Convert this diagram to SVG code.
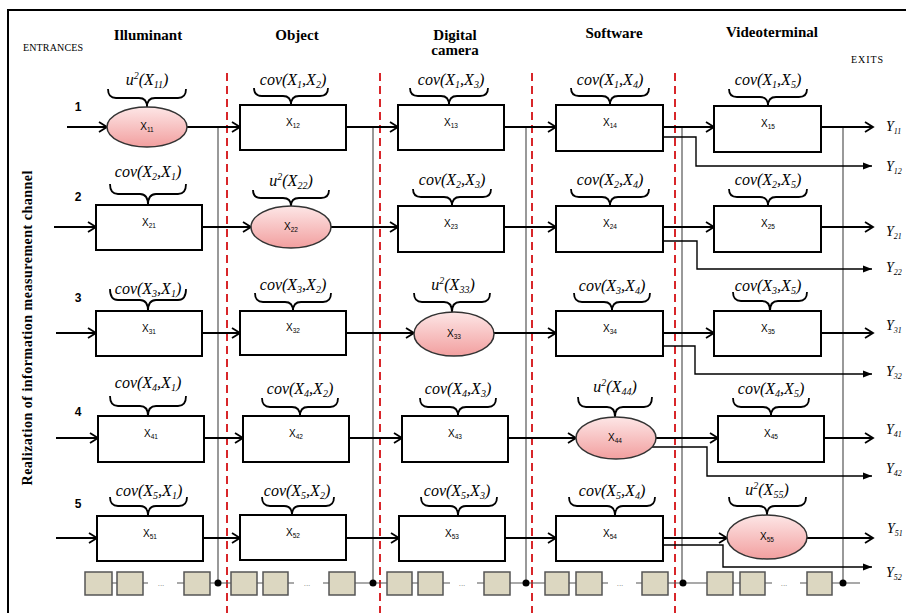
<svg xmlns="http://www.w3.org/2000/svg" width="906" height="613" viewBox="0 0 906 613">
<defs>
<linearGradient id="pink" x1="0" y1="0" x2="0" y2="1">
<stop offset="0" stop-color="#fde6e6"/>
<stop offset="1" stop-color="#f29f9f"/>
</linearGradient>
<marker id="ah" markerUnits="userSpaceOnUse" markerWidth="12" markerHeight="12" refX="10" refY="6" orient="auto">
<path d="M2,1 L10,6 L2,11" fill="none" stroke="#000" stroke-width="1.8"/>
</marker>
<marker id="sh" markerUnits="userSpaceOnUse" markerWidth="10" markerHeight="10" refX="9" refY="5" orient="auto">
<path d="M0,1.5 L9,5 L0,8.5 Z" fill="#000"/>
</marker>
</defs>
<style>
.frame{stroke:#000;stroke-width:2;fill:none}
.hd{font-family:"Liberation Serif",serif;font-weight:bold;font-size:15px;text-anchor:middle;fill:#000}
.sm{font-family:"Liberation Serif",serif;font-size:10px;fill:#000}
.rn{font-family:"Liberation Sans",sans-serif;font-weight:bold;font-size:12px;text-anchor:middle}
.red{stroke:#d8262a;stroke-width:2;stroke-dasharray:8 5;fill:none}
.gl{stroke:#555;stroke-width:1.2;fill:none}
.box{fill:#fff;stroke:#000;stroke-width:2}
.ell{fill:url(#pink);stroke:#333;stroke-width:1.5}
.brace{fill:none;stroke:#000;stroke-width:1.8}
.m{font-family:"Liberation Serif",serif;font-style:italic;font-size:16px;text-anchor:middle}
.m .sb{font-size:10px}
.n{font-family:"Liberation Sans",sans-serif;font-size:10px;text-anchor:middle}
.n .sb{font-size:6.5px}
.ar{stroke:#000;stroke-width:1.8;fill:none;marker-end:url(#ah)}
.br{stroke:#000;stroke-width:1.4;fill:none;marker-end:url(#sh)}
.y{font-family:"Liberation Serif",serif;font-style:italic;font-size:14px}
.y .sb{font-size:8px}
.cell{fill:#dcd7c1;stroke:#555;stroke-width:1.5}
.dots{font-family:"Liberation Sans",sans-serif;font-size:8px;fill:#777;text-anchor:middle}
</style>

<!-- frame and titles -->
<path class="frame" d="M906,10 L8,10 L8,613"/>
<text class="hd" x="148" y="40">Illuminant</text>
<text class="hd" x="297" y="40">Object</text>
<text class="hd" x="455" y="40">Digital</text>
<text class="hd" x="455" y="55">camera</text>
<text class="hd" x="614" y="38">Software</text>
<text class="hd" x="772" y="37">Videoterminal</text>
<text class="sm" x="23" y="51" textLength="60">ENTRANCES</text>
<text class="sm" x="851" y="63" textLength="32">EXITS</text>
<text transform="translate(32,328) rotate(-90)" font-family="Liberation Serif, serif" font-weight="bold" font-size="14" text-anchor="middle" textLength="315" lengthAdjust="spacing">Realization of information measurement channel</text>
<text class="rn" x="78" y="111">1</text>
<text class="rn" x="78" y="201">2</text>
<text class="rn" x="78" y="302">3</text>
<text class="rn" x="78" y="416">4</text>
<text class="rn" x="78" y="508">5</text>

<!-- stage separators -->
<g id="separators">
<line class="red" x1="227" y1="73" x2="227" y2="613"/>
<line class="red" x1="380" y1="73" x2="380" y2="613"/>
<line class="red" x1="532" y1="73" x2="532" y2="613"/>
<line class="red" x1="675" y1="73" x2="675" y2="613"/>
</g>

<!-- bus -->
<g id="bus">
<line class="gl" x1="218" y1="127" x2="218" y2="583"/>
<line class="gl" x1="373" y1="127" x2="373" y2="583"/>
<line class="gl" x1="526" y1="127" x2="526" y2="583"/>
<line class="gl" x1="682" y1="127" x2="682" y2="583"/>
<line class="gl" x1="843" y1="127" x2="843" y2="583"/>
<path class="gl" d="M112,583H117 M143,583H148 M177,583H184 M210,583H231 M257,583H263 M288,583H294 M323,583H329 M355,583H387 M412,583H418 M443,583H450 M477,583H484 M510,583H545 M569,583H576 M602,583H608 M636,583H642 M668,583H707 M733,583H740 M765,583H772 M800,583H807 M832,583H860"/>
<rect class="cell" x="85" y="572" width="27" height="23"/>
<rect class="cell" x="117" y="572" width="26" height="23"/>
<rect class="cell" x="184" y="572" width="26" height="23"/>
<rect class="cell" x="231" y="572" width="26" height="23"/>
<rect class="cell" x="263" y="572" width="25" height="23"/>
<rect class="cell" x="329" y="572" width="26" height="23"/>
<rect class="cell" x="387" y="572" width="25" height="23"/>
<rect class="cell" x="418" y="572" width="25" height="23"/>
<rect class="cell" x="484" y="572" width="26" height="23"/>
<rect class="cell" x="545" y="572" width="24" height="23"/>
<rect class="cell" x="576" y="572" width="26" height="23"/>
<rect class="cell" x="642" y="572" width="26" height="23"/>
<rect class="cell" x="707" y="572" width="26" height="23"/>
<rect class="cell" x="740" y="572" width="25" height="23"/>
<rect class="cell" x="807" y="572" width="25" height="23"/>
<text class="dots" x="161" y="586">...</text>
<text class="dots" x="307" y="586">...</text>
<text class="dots" x="462" y="586">...</text>
<text class="dots" x="620" y="586">...</text>
<text class="dots" x="784" y="586">...</text>
<circle cx="218" cy="583" r="3.5"/>
<circle cx="373" cy="583" r="3.5"/>
<circle cx="526" cy="583" r="3.5"/>
<circle cx="683" cy="583" r="3.5"/>
<circle cx="843" cy="583" r="3.5"/>
</g>

<!-- connectors -->
<g id="connectors">
<line class="ar" x1="67" y1="127" x2="107" y2="127"/>
<line class="ar" x1="54" y1="227" x2="96" y2="227"/>
<line class="ar" x1="56" y1="333" x2="96" y2="333"/>
<line class="ar" x1="56" y1="438" x2="98" y2="438"/>
<line class="ar" x1="56" y1="538" x2="97" y2="538"/>

<line class="ar" x1="187" y1="127" x2="240" y2="127"/>
<line class="ar" x1="346" y1="127" x2="398" y2="127"/>
<line class="ar" x1="504" y1="127" x2="556" y2="127"/>
<line class="ar" x1="663" y1="127" x2="714" y2="127"/>
<line class="ar" x1="821" y1="127" x2="873" y2="127"/>

<line class="ar" x1="202" y1="227" x2="251" y2="227"/>
<line class="ar" x1="331" y1="227" x2="398" y2="227"/>
<line class="ar" x1="504" y1="227" x2="556" y2="227"/>
<line class="ar" x1="663" y1="227" x2="714" y2="227"/>
<line class="ar" x1="821" y1="227" x2="873" y2="227"/>

<line class="ar" x1="202" y1="333" x2="240" y2="333"/>
<line class="ar" x1="346" y1="333" x2="414" y2="333"/>
<line class="ar" x1="494" y1="333" x2="556" y2="333"/>
<line class="ar" x1="663" y1="333" x2="714" y2="333"/>
<line class="ar" x1="821" y1="333" x2="873" y2="333"/>

<line class="ar" x1="204" y1="438" x2="243" y2="438"/>
<line class="ar" x1="349" y1="438" x2="402" y2="438"/>
<line class="ar" x1="508" y1="438" x2="576" y2="438"/>
<line class="ar" x1="656" y1="438" x2="718" y2="438"/>
<line class="ar" x1="824" y1="438" x2="873" y2="438"/>

<line class="ar" x1="203" y1="538" x2="240" y2="538"/>
<line class="ar" x1="346" y1="538" x2="399" y2="538"/>
<line class="ar" x1="505" y1="538" x2="556" y2="538"/>
<line class="ar" x1="663" y1="538" x2="727" y2="538"/>
<line class="ar" x1="807" y1="538" x2="873" y2="538"/>

<polyline class="br" points="663,137 696,137 696,166 872,166"/>
<polyline class="br" points="663,241 697,241 697,269 872,269"/>
<polyline class="br" points="663,346 695,346 695,374 872,374"/>
<polyline class="br" points="652,447 707,447 707,476 872,476"/>
<polyline class="br" points="663,545 723,545 723,567 872,567"/>
</g>

<!-- outputs -->
<g id="exits">
<text class="y" x="886" y="131">Y<tspan class="sb" dy="3">11</tspan></text>
<text class="y" x="886" y="171">Y<tspan class="sb" dy="3">12</tspan></text>
<text class="y" x="886" y="236">Y<tspan class="sb" dy="3">21</tspan></text>
<text class="y" x="886" y="272">Y<tspan class="sb" dy="3">22</tspan></text>
<text class="y" x="886" y="330">Y<tspan class="sb" dy="3">31</tspan></text>
<text class="y" x="886" y="376">Y<tspan class="sb" dy="3">32</tspan></text>
<text class="y" x="886" y="434">Y<tspan class="sb" dy="3">41</tspan></text>
<text class="y" x="886" y="473">Y<tspan class="sb" dy="3">42</tspan></text>
<text class="y" x="887" y="533">Y<tspan class="sb" dy="3">51</tspan></text>
<text class="y" x="886" y="577">Y<tspan class="sb" dy="3">52</tspan></text>
</g>

<!-- row 1 -->
<g id="X11">
<path class="brace" d="M108,89 Q108,98 116,98 L139,98 Q147,98 147,107 Q147,98 155,98 L178,98 Q186,98 186,89"/>
<text class="m" x="147" y="85">u<tspan class="sb" dy="-6">2</tspan><tspan dy="6">(X</tspan><tspan class="sb" dy="3">11</tspan><tspan dy="-3">)</tspan></text>
<ellipse class="ell" cx="147" cy="127" rx="40" ry="20"/>
<text class="n" x="147" y="130">X<tspan class="sb" dy="2">11</tspan></text>
</g>
<g id="X12">
<rect class="box" x="240" y="105" width="106" height="45"/>
<path class="brace" d="M254,88 Q254,96 262,96 L283,96 Q291,96 291,105 Q291,96 299,96 L320,96 Q328,96 328,88"/>
<text class="m" x="293" y="85">cov(X<tspan class="sb" dy="3">1</tspan><tspan dy="-3">,X</tspan><tspan class="sb" dy="3">2</tspan><tspan dy="-3">)</tspan></text>
<text class="n" x="293" y="126">X<tspan class="sb" dy="2">12</tspan></text>
</g>
<g id="X13">
<rect class="box" x="398" y="105" width="106" height="45"/>
<path class="brace" d="M410,88 Q410,96 418,96 L441,96 Q449,96 449,105 Q449,96 457,96 L480,96 Q488,96 488,88"/>
<text class="m" x="451" y="85">cov(X<tspan class="sb" dy="3">1</tspan><tspan dy="-3">,X</tspan><tspan class="sb" dy="3">3</tspan><tspan dy="-3">)</tspan></text>
<text class="n" x="451" y="126">X<tspan class="sb" dy="2">13</tspan></text>
</g>
<g id="X14">
<rect class="box" x="556" y="105" width="107" height="46"/>
<path class="brace" d="M571,88 Q571,96 579,96 L602,96 Q610,96 610,105 Q610,96 618,96 L641,96 Q649,96 649,88"/>
<text class="m" x="610" y="85">cov(X<tspan class="sb" dy="3">1</tspan><tspan dy="-3">,X</tspan><tspan class="sb" dy="3">4</tspan><tspan dy="-3">)</tspan></text>
<text class="n" x="610" y="126">X<tspan class="sb" dy="2">14</tspan></text>
</g>
<g id="X15">
<rect class="box" x="714" y="106" width="107" height="46"/>
<path class="brace" d="M729,89 Q729,97 737,97 L760,97 Q768,97 768,106 Q768,97 776,97 L799,97 Q807,97 807,89"/>
<text class="m" x="768" y="85">cov(X<tspan class="sb" dy="3">1</tspan><tspan dy="-3">,X</tspan><tspan class="sb" dy="3">5</tspan><tspan dy="-3">)</tspan></text>
<text class="n" x="768" y="127">X<tspan class="sb" dy="2">15</tspan></text>
</g>

<!-- row 2 -->
<g id="X21">
<rect class="box" x="96" y="205" width="106" height="45"/>
<path class="brace" d="M110,184 Q110,194 118,194 L140,194 Q148,194 148,205 Q148,194 156,194 L178,194 Q186,194 186,184"/>
<text class="m" x="148" y="177">cov(X<tspan class="sb" dy="3">2</tspan><tspan dy="-3">,X</tspan><tspan class="sb" dy="3">1</tspan><tspan dy="-3">)</tspan></text>
<text class="n" x="149" y="226">X<tspan class="sb" dy="2">21</tspan></text>
</g>
<g id="X22">
<path class="brace" d="M253,190 Q253,198 261,198 L283,198 Q291,198 291,206 Q291,198 299,198 L321,198 Q329,198 329,190"/>
<text class="m" x="291" y="186">u<tspan class="sb" dy="-6">2</tspan><tspan dy="6">(X</tspan><tspan class="sb" dy="3">22</tspan><tspan dy="-3">)</tspan></text>
<ellipse class="ell" cx="291" cy="227" rx="40" ry="21"/>
<text class="n" x="291" y="230">X<tspan class="sb" dy="2">22</tspan></text>
</g>
<g id="X23">
<rect class="box" x="398" y="206" width="106" height="46"/>
<path class="brace" d="M413,189 Q413,197 421,197 L444,197 Q452,197 452,206 Q452,197 460,197 L483,197 Q491,197 491,189"/>
<text class="m" x="452" y="185">cov(X<tspan class="sb" dy="3">2</tspan><tspan dy="-3">,X</tspan><tspan class="sb" dy="3">3</tspan><tspan dy="-3">)</tspan></text>
<text class="n" x="451" y="227">X<tspan class="sb" dy="2">23</tspan></text>
</g>
<g id="X24">
<rect class="box" x="556" y="206" width="107" height="46"/>
<path class="brace" d="M571,189 Q571,197 579,197 L602,197 Q610,197 610,206 Q610,197 618,197 L641,197 Q649,197 649,189"/>
<text class="m" x="610" y="185">cov(X<tspan class="sb" dy="3">2</tspan><tspan dy="-3">,X</tspan><tspan class="sb" dy="3">4</tspan><tspan dy="-3">)</tspan></text>
<text class="n" x="610" y="227">X<tspan class="sb" dy="2">24</tspan></text>
</g>
<g id="X25">
<rect class="box" x="714" y="206" width="107" height="46"/>
<path class="brace" d="M729,189 Q729,197 737,197 L760,197 Q768,197 768,206 Q768,197 776,197 L799,197 Q807,197 807,189"/>
<text class="m" x="768" y="185">cov(X<tspan class="sb" dy="3">2</tspan><tspan dy="-3">,X</tspan><tspan class="sb" dy="3">5</tspan><tspan dy="-3">)</tspan></text>
<text class="n" x="768" y="227">X<tspan class="sb" dy="2">25</tspan></text>
</g>

<!-- row 3 -->
<g id="X31">
<rect class="box" x="96" y="311" width="106" height="45"/>
<path class="brace" d="M110,289 Q110,300 118,300 L140,300 Q148,300 148,311 Q148,300 156,300 L178,300 Q186,300 186,289"/>
<text class="m" x="148" y="294">cov(X<tspan class="sb" dy="3">3</tspan><tspan dy="-3">,X</tspan><tspan class="sb" dy="3">1</tspan><tspan dy="-3">)</tspan></text>
<text class="n" x="149" y="332">X<tspan class="sb" dy="2">31</tspan></text>
</g>
<g id="X32">
<rect class="box" x="240" y="311" width="106" height="44"/>
<path class="brace" d="M255,293 Q255,302 263,302 L285,302 Q293,302 293,311 Q293,302 301,302 L323,302 Q331,302 331,293"/>
<text class="m" x="293" y="290">cov(X<tspan class="sb" dy="3">3</tspan><tspan dy="-3">,X</tspan><tspan class="sb" dy="3">2</tspan><tspan dy="-3">)</tspan></text>
<text class="n" x="293" y="331">X<tspan class="sb" dy="2">32</tspan></text>
</g>
<g id="X33">
<path class="brace" d="M414,293 Q414,302 422,302 L444,302 Q452,302 452,312 Q452,302 460,302 L482,302 Q490,302 490,293"/>
<text class="m" x="453" y="290">u<tspan class="sb" dy="-6">2</tspan><tspan dy="6">(X</tspan><tspan class="sb" dy="3">33</tspan><tspan dy="-3">)</tspan></text>
<ellipse class="ell" cx="454" cy="334" rx="40" ry="22"/>
<text class="n" x="454" y="337">X<tspan class="sb" dy="2">33</tspan></text>
</g>
<g id="X34">
<rect class="box" x="556" y="311" width="107" height="45"/>
<path class="brace" d="M574,293 Q574,302 582,302 L604,302 Q612,302 612,311 Q612,302 620,302 L642,302 Q650,302 650,293"/>
<text class="m" x="612" y="291">cov(X<tspan class="sb" dy="3">3</tspan><tspan dy="-3">,X</tspan><tspan class="sb" dy="3">4</tspan><tspan dy="-3">)</tspan></text>
<text class="n" x="610" y="332">X<tspan class="sb" dy="2">34</tspan></text>
</g>
<g id="X35">
<rect class="box" x="714" y="311" width="107" height="45"/>
<path class="brace" d="M733,292 Q733,301 741,301 L762,301 Q770,301 770,311 Q770,301 778,301 L799,301 Q807,301 807,292"/>
<text class="m" x="768" y="291">cov(X<tspan class="sb" dy="3">3</tspan><tspan dy="-3">,X</tspan><tspan class="sb" dy="3">5</tspan><tspan dy="-3">)</tspan></text>
<text class="n" x="768" y="332">X<tspan class="sb" dy="2">35</tspan></text>
</g>

<!-- row 4 -->
<g id="X41">
<rect class="box" x="98" y="416" width="106" height="46"/>
<path class="brace" d="M110,396 Q110,406 118,406 L140,406 Q148,406 148,416 Q148,406 156,406 L178,406 Q186,406 186,396"/>
<text class="m" x="148" y="388">cov(X<tspan class="sb" dy="3">4</tspan><tspan dy="-3">,X</tspan><tspan class="sb" dy="3">1</tspan><tspan dy="-3">)</tspan></text>
<text class="n" x="151" y="437">X<tspan class="sb" dy="2">41</tspan></text>
</g>
<g id="X42">
<rect class="box" x="243" y="416" width="106" height="46"/>
<path class="brace" d="M262,398 Q262,407 270,407 L292,407 Q300,407 300,416 Q300,407 308,407 L330,407 Q338,407 338,398"/>
<text class="m" x="300" y="394">cov(X<tspan class="sb" dy="3">4</tspan><tspan dy="-3">,X</tspan><tspan class="sb" dy="3">2</tspan><tspan dy="-3">)</tspan></text>
<text class="n" x="296" y="437">X<tspan class="sb" dy="2">42</tspan></text>
</g>
<g id="X43">
<rect class="box" x="402" y="416" width="106" height="46"/>
<path class="brace" d="M420,398 Q420,407 428,407 L450,407 Q458,407 458,416 Q458,407 466,407 L488,407 Q496,407 496,398"/>
<text class="m" x="458" y="394">cov(X<tspan class="sb" dy="3">4</tspan><tspan dy="-3">,X</tspan><tspan class="sb" dy="3">3</tspan><tspan dy="-3">)</tspan></text>
<text class="n" x="455" y="437">X<tspan class="sb" dy="2">43</tspan></text>
</g>
<g id="X44">
<path class="brace" d="M578,397 Q578,407 586,407 L607,407 Q615,407 615,417 Q615,407 623,407 L644,407 Q652,407 652,397"/>
<text class="m" x="615" y="392">u<tspan class="sb" dy="-6">2</tspan><tspan dy="6">(X</tspan><tspan class="sb" dy="3">44</tspan><tspan dy="-3">)</tspan></text>
<ellipse class="ell" cx="616" cy="438" rx="40" ry="21"/>
<text class="n" x="615" y="441">X<tspan class="sb" dy="2">44</tspan></text>
</g>
<g id="X45">
<rect class="box" x="718" y="416" width="106" height="46"/>
<path class="brace" d="M733,398 Q733,407 741,407 L763,407 Q771,407 771,416 Q771,407 779,407 L801,407 Q809,407 809,398"/>
<text class="m" x="771" y="394">cov(X<tspan class="sb" dy="3">4</tspan><tspan dy="-3">,X</tspan><tspan class="sb" dy="3">5</tspan><tspan dy="-3">)</tspan></text>
<text class="n" x="771" y="437">X<tspan class="sb" dy="2">45</tspan></text>
</g>

<!-- row 5 -->
<g id="X51">
<rect class="box" x="97" y="516" width="106" height="45"/>
<path class="brace" d="M110,497 Q110,506 118,506 L140,506 Q148,506 148,516 Q148,506 156,506 L179,506 Q187,506 187,497"/>
<text class="m" x="149" y="496">cov(X<tspan class="sb" dy="3">5</tspan><tspan dy="-3">,X</tspan><tspan class="sb" dy="3">1</tspan><tspan dy="-3">)</tspan></text>
<text class="n" x="150" y="537">X<tspan class="sb" dy="2">51</tspan></text>
</g>
<g id="X52">
<rect class="box" x="240" y="515" width="106" height="45"/>
<path class="brace" d="M262,497 Q262,506 270,506 L284,506 Q292,506 292,515 Q292,506 300,506 L326,506 Q334,506 334,497"/>
<text class="m" x="297" y="496">cov(X<tspan class="sb" dy="3">5</tspan><tspan dy="-3">,X</tspan><tspan class="sb" dy="3">2</tspan><tspan dy="-3">)</tspan></text>
<text class="n" x="293" y="536">X<tspan class="sb" dy="2">52</tspan></text>
</g>
<g id="X53">
<rect class="box" x="399" y="516" width="106" height="45"/>
<path class="brace" d="M421,497 Q421,506 429,506 L450,506 Q458,506 458,516 Q458,506 466,506 L489,506 Q497,506 497,497"/>
<text class="m" x="457" y="496">cov(X<tspan class="sb" dy="3">5</tspan><tspan dy="-3">,X</tspan><tspan class="sb" dy="3">3</tspan><tspan dy="-3">)</tspan></text>
<text class="n" x="452" y="537">X<tspan class="sb" dy="2">53</tspan></text>
</g>
<g id="X54">
<rect class="box" x="556" y="516" width="107" height="45"/>
<path class="brace" d="M569,497 Q569,506 577,506 L607,506 Q615,506 615,516 Q615,506 623,506 L647,506 Q655,506 655,497"/>
<text class="m" x="612" y="496">cov(X<tspan class="sb" dy="3">5</tspan><tspan dy="-3">,X</tspan><tspan class="sb" dy="3">4</tspan><tspan dy="-3">)</tspan></text>
<text class="n" x="610" y="537">X<tspan class="sb" dy="2">54</tspan></text>
</g>
<g id="X55">
<path class="brace" d="M729,497 Q729,506 737,506 L759,506 Q767,506 767,515 Q767,506 775,506 L798,506 Q806,506 806,497"/>
<text class="m" x="767" y="495">u<tspan class="sb" dy="-6">2</tspan><tspan dy="6">(X</tspan><tspan class="sb" dy="3">55</tspan><tspan dy="-3">)</tspan></text>
<ellipse class="ell" cx="767" cy="537" rx="40" ry="22"/>
<text class="n" x="767" y="540">X<tspan class="sb" dy="2">55</tspan></text>
</g>
</svg>
